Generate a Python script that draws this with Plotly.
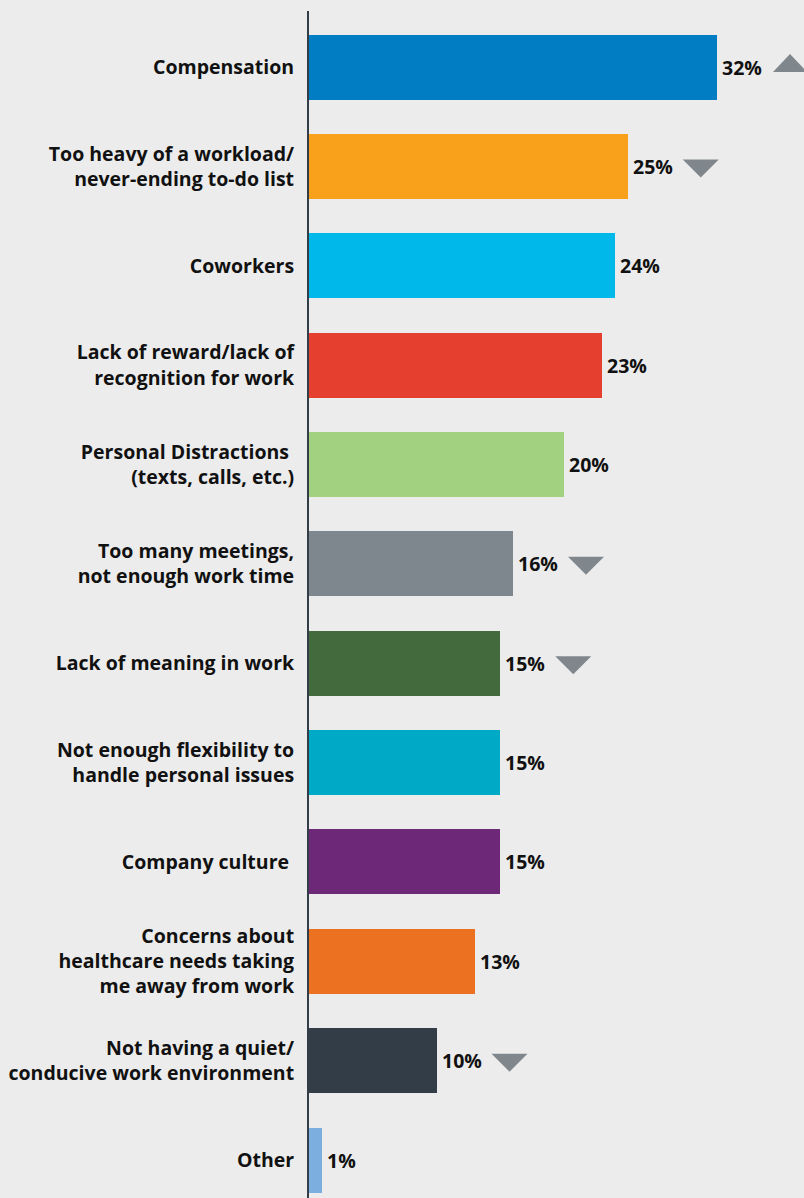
import plotly.graph_objects as go

# Reasons cited, top to bottom
categories = [
    "Compensation",
    "Too heavy of a workload/<br>never-ending to-do list",
    "Coworkers",
    "Lack of reward/lack of<br>recognition for work",
    "Personal Distractions <br>(texts, calls, etc.)",
    "Too many meetings,<br>not enough work time",
    "Lack of meaning in work",
    "Not enough flexibility to<br>handle personal issues",
    "Company culture ",
    "Concerns about<br>healthcare needs taking<br>me away from work",
    "Not having a quiet/<br>conducive work environment",
    "Other",
]
values = [32, 25, 24, 23, 20, 16, 15, 15, 15, 13, 10, 1]
# change vs. previous survey: "up", "down" or None
trends = ["up", "down", None, None, None, "down", "down", None, None, None, "down", None]
colors = [
    "#007dc3", "#f9a11b", "#00b9ea", "#e53f2f", "#a2d27f", "#7d878d",
    "#436a3d", "#00a9c6", "#6d2877", "#ec7120", "#323d48", "#7daee0",
]

BG = "#ececec"
FONT = "Open Sans"
idx = list(range(len(categories)))

fig = go.Figure(
    go.Bar(
        x=values,
        y=idx,
        orientation="h",
        marker=dict(color=colors, line=dict(width=0)),
        width=0.655,
        hoverinfo="skip",
    )
)

annotations = []
shapes = []
for i, (v, t) in enumerate(zip(values, trends)):
    annotations.append(dict(
        x=v, y=i, xref="x", yref="y",
        text=f"<b>{v}%</b>", showarrow=False,
        xanchor="left", yanchor="middle", xshift=3,
        font=dict(family=FONT, size=19.5, color="#111111"),
    ))
    if t == "up":
        shapes.append(dict(
            type="path", xref="x", yref="y",
            xsizemode="pixel", ysizemode="pixel",
            xanchor=v, yanchor=i,
            path="M 56,-5 L 90,-5 L 73,13 Z",
            fillcolor="#7f878d", line=dict(width=0),
        ))
    elif t == "down":
        shapes.append(dict(
            type="path", xref="x", yref="y",
            xsizemode="pixel", ysizemode="pixel",
            xanchor=v, yanchor=i,
            path="M 55,7 L 91,7 L 73,-11 Z",
            fillcolor="#7f878d", line=dict(width=0),
        ))

fig.update_layout(
    width=804, height=1198,
    margin=dict(l=309, r=0, t=11, b=0),
    paper_bgcolor=BG, plot_bgcolor=BG,
    showlegend=False,
    bargap=0,
    annotations=annotations,
    shapes=shapes,
    xaxis=dict(
        range=[0, 495 / 12.75],
        visible=False, fixedrange=True,
    ),
    yaxis=dict(
        range=[11.382, -0.564],
        tickmode="array", tickvals=idx,
        ticktext=[f"<b>{c}</b>" for c in categories],
        tickfont=dict(family=FONT, size=19.5, color="#111111"),
        ticks="outside", ticklen=9, tickcolor="rgba(0,0,0,0)",
        showline=True, linecolor="#323d48", linewidth=2,
        showgrid=False, zeroline=False, fixedrange=True,
    ),
)

fig.write_html("out.html")
